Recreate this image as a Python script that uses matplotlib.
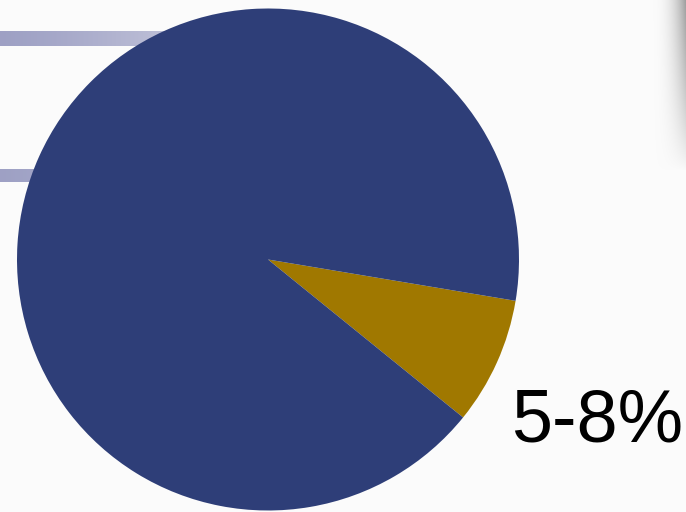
import numpy as np
import matplotlib.pyplot as plt

plt.rcParams['font.family'] = ['Liberation Sans', 'DejaVu Sans']

# -----------------------------
# data
# -----------------------------
categories = ['other', '5-8%']
shares = [91.8, 8.2]
colors = ['#2E3E78', '#A07800']
label_text = '5-8%'

W, H = 686, 512
fig = plt.figure(figsize=(W / 100, H / 100), dpi=100)

# background: slide-like decoration (light ground, fading bars, right shadow)
base = 0.985
bg = np.ones((H, W, 3)) * base
bar_col = np.array([0.62, 0.63, 0.77])
xs = np.arange(W)
fade = np.clip(xs / 380.0, 0, 1)[:, None] ** 1.3
grad = bar_col * (1 - fade) + base * fade
bg[31:46, :, :] = grad[None, :, :]
bg[169:182, :, :] = grad[None, :, :]
# soft shadow at the top right edge
rows = np.arange(H)
rfade = np.clip(1 - rows / 170.0, 0, 1) ** 0.8
for j in range(650, W):
    t = ((j - 650) / (W - 650)) ** 2.5
    bg[:, j, :] = (base - 0.38 * t * rfade)[:, None]

ax_bg = fig.add_axes([0, 0, 1, 1])
ax_bg.imshow(bg, aspect='auto', extent=[0, W, H, 0], interpolation='bilinear')
ax_bg.axis('off')

# pie
ax = fig.add_axes([17 / W, 1.5 / H, 502 / W, 502 / H])
ax.pie(
    shares[::-1],
    colors=colors[::-1],
    startangle=-39,
    counterclock=True,
    radius=1.0,
    wedgeprops=dict(linewidth=0)
)
ax.set_xlim(-1, 1)
ax.set_ylim(-1, 1)
ax.set_aspect('equal')
ax.axis('off')

# label
fig.text(597 / W, (H - 442) / H, label_text, fontsize=53,
         ha='center', va='baseline', color='black')

plt.savefig('out.png', dpi=100)
